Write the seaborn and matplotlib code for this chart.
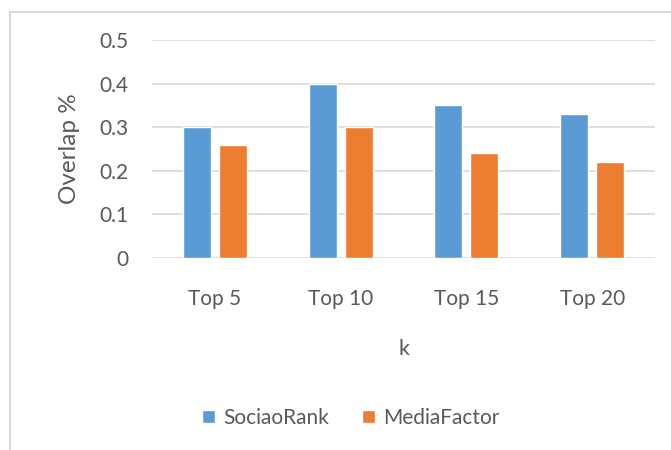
import matplotlib
matplotlib.use("Agg")
import matplotlib.pyplot as plt
import seaborn as sns
import pandas as pd
from matplotlib.patches import Rectangle

categories = ["Top 5", "Top 10", "Top 15", "Top 20"]
sociaorank = [0.30, 0.40, 0.35, 0.33]
mediafactor = [0.26, 0.30, 0.24, 0.22]
series_names = ["SociaoRank", "MediaFactor"]
yticks = [0, 0.1, 0.2, 0.3, 0.4, 0.5]
ytick_labels = ["0", "0.1", "0.2", "0.3", "0.4", "0.5"]

df = pd.DataFrame({
    "k": categories * 2,
    "value": sociaorank + mediafactor,
    "series": [series_names[0]] * len(categories) + [series_names[1]] * len(categories),
})

sns.set_theme(style="white")
plt.rcParams["font.family"] = ["Lato", "DejaVu Sans"]
text_color = "#595959"
grid_color = "#D9D9D9"

W, H = 671, 450
fig = plt.figure(figsize=(W / 100, H / 100), dpi=100)
fig.patch.set_facecolor("white")

# outer chart frame
fig.add_artist(Rectangle((10 / W, -0.05), 1.2, (H - 12) / H + 0.05,
                         transform=fig.transFigure, fill=False,
                         edgecolor=grid_color, linewidth=1.5))

ax = fig.add_axes([152 / W, (H - 258) / H, (655 - 152) / W, (258 - 40) / H])

sns.barplot(data=df, x="k", y="value", hue="series", order=categories,
            hue_order=series_names, palette=["#5B9BD5", "#ED7D31"],
            width=0.574, gap=0.22, ax=ax, saturation=1, legend=True)

ax.set_ylim(0, 0.5)
ax.set_yticks(yticks)
ax.set_yticklabels(ytick_labels)
ax.set_axisbelow(True)
ax.yaxis.grid(True, color=grid_color, linewidth=1.2)
ax.xaxis.grid(False)
for s in ax.spines.values():
    s.set_visible(False)
ax.tick_params(axis="both", length=0, labelsize=15, colors=text_color)
ax.tick_params(axis="y", pad=17)
ax.tick_params(axis="x", pad=22)
ax.set_xlabel("k", fontsize=15.5, color=text_color, labelpad=22)
ax.set_ylabel("Overlap %", fontsize=17.5, color=text_color, labelpad=14)

leg = ax.legend(loc="center", bbox_to_anchor=(351 / W, (H - 418) / H),
                bbox_transform=fig.transFigure, ncol=2, frameon=False,
                fontsize=15, handlelength=0.6, handleheight=0.6,
                handletextpad=0.4, columnspacing=1.6)
for t in leg.get_texts():
    t.set_color(text_color)

fig.savefig("out.png", dpi=100)
